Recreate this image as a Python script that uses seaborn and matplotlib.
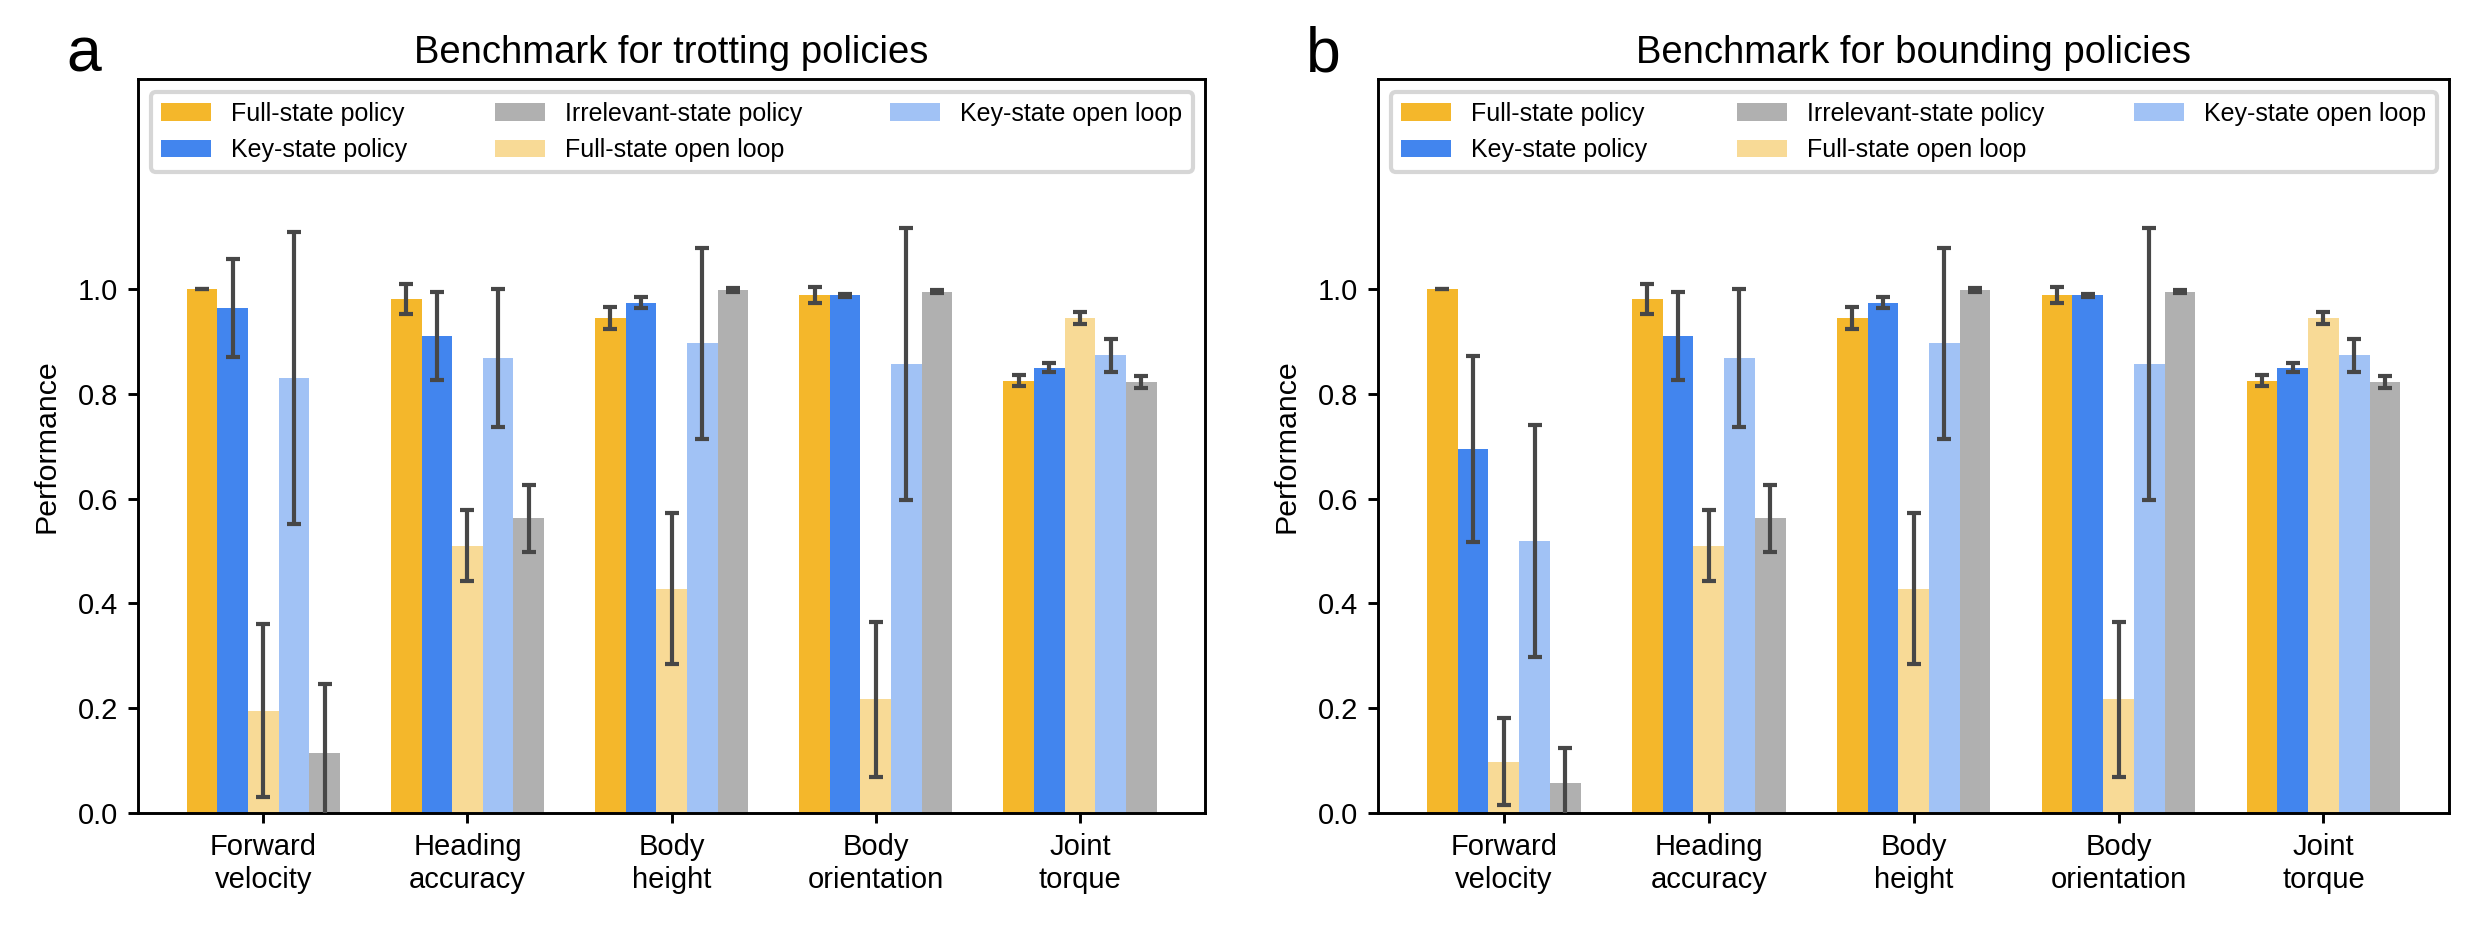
import numpy as np
import pandas as pd
import matplotlib
matplotlib.use("Agg")
import matplotlib.pyplot as plt
from matplotlib.patches import Patch
from matplotlib.container import BarContainer
import seaborn as sns

# ---------------- data ----------------
metrics = ["Forward\nvelocity", "Heading\naccuracy", "Body\nheight", "Body\norientation", "Joint\ntorque"]
methods = ["Full-state policy", "Key-state policy", "Full-state open loop",
           "Key-state open loop", "Irrelevant-state policy"]
legend_order = ["Full-state policy", "Key-state policy", "Irrelevant-state policy",
                "Full-state open loop", "Key-state open loop"]

# trotting: mean values per method (over metrics)
trot_full = [1.000, 0.981, 0.945, 0.988, 0.825]
trot_key = [0.964, 0.911, 0.974, 0.988, 0.850]
trot_full_ol = [0.195, 0.510, 0.428, 0.217, 0.945]
trot_key_ol = [0.830, 0.868, 0.896, 0.857, 0.873]
trot_irr = [0.115, 0.562, 0.998, 0.995, 0.822]

trot_full_err = [0.000, 0.028, 0.021, 0.015, 0.010]
trot_key_err = [0.093, 0.084, 0.010, 0.003, 0.008]
trot_full_ol_err = [0.165, 0.068, 0.144, 0.148, 0.011]
trot_key_ol_err = [0.279, 0.132, 0.182, 0.260, 0.032]
trot_irr_err = [0.132, 0.064, 0.003, 0.003, 0.011]

# bounding
bound_full = [1.000, 0.981, 0.945, 0.988, 0.825]
bound_key = [0.695, 0.911, 0.974, 0.988, 0.850]
bound_full_ol = [0.098, 0.510, 0.428, 0.217, 0.945]
bound_key_ol = [0.519, 0.868, 0.896, 0.857, 0.873]
bound_irr = [0.058, 0.562, 0.998, 0.995, 0.822]

bound_full_err = [0.000, 0.028, 0.021, 0.015, 0.010]
bound_key_err = [0.177, 0.084, 0.010, 0.003, 0.008]
bound_full_ol_err = [0.083, 0.068, 0.144, 0.148, 0.011]
bound_key_ol_err = [0.222, 0.132, 0.182, 0.260, 0.032]
bound_irr_err = [0.066, 0.064, 0.003, 0.003, 0.011]

titles = ["Benchmark for trotting policies", "Benchmark for bounding policies"]
panel_labels = ["a", "b"]

palette = {
    "Full-state policy": "#F4B72B",
    "Key-state policy": "#4285EE",
    "Full-state open loop": "#F8DA96",
    "Key-state open loop": "#A1C2F5",
    "Irrelevant-state policy": "#B0B0B0",
}

# ---------------- style ----------------
sns.set_style("ticks")
plt.rcParams["font.family"] = ["Liberation Sans", "DejaVu Sans"]
plt.rcParams["text.color"] = "black"
plt.rcParams["axes.labelcolor"] = "black"
plt.rcParams["axes.titlecolor"] = "black"
plt.rcParams["axes.linewidth"] = 0.7
plt.rcParams["xtick.major.width"] = 0.7
plt.rcParams["ytick.major.width"] = 0.7
plt.rcParams["xtick.major.size"] = 2.4
plt.rcParams["ytick.major.size"] = 2.4
plt.rcParams["xtick.major.pad"] = 2.5
plt.rcParams["ytick.major.pad"] = 2.5
plt.rcParams["xtick.color"] = "black"
plt.rcParams["ytick.color"] = "black"
plt.rcParams["xtick.labelcolor"] = "black"
plt.rcParams["ytick.labelcolor"] = "black"
plt.rcParams["axes.edgecolor"] = "black"

W, H = 2480, 930
fig = plt.figure(figsize=(W / 300, H / 300), dpi=300)

positions = [
    [138.3 / W, 1 - 813 / H, (1205 - 138.3) / W, (813 - 79.3) / H],
    [1378.3 / W, 1 - 813 / H, (2449 - 1378.3) / W, (813 - 79.3) / H],
]

panels = [
    ([trot_full, trot_key, trot_full_ol, trot_key_ol, trot_irr],
     [trot_full_err, trot_key_err, trot_full_ol_err, trot_key_ol_err, trot_irr_err]),
    ([bound_full, bound_key, bound_full_ol, bound_key_ol, bound_irr],
     [bound_full_err, bound_key_err, bound_full_ol_err, bound_key_ol_err, bound_irr_err]),
]

for p, (vals, errs) in enumerate(panels):
    ax = fig.add_axes(positions[p])
    rows = []
    for mi, m in enumerate(methods):
        for ci, c in enumerate(metrics):
            rows.append({"metric": c, "method": m, "value": vals[mi][ci]})
    df = pd.DataFrame(rows)
    sns.barplot(data=df, x="metric", y="value", hue="method", order=metrics,
                hue_order=methods, palette=palette, saturation=1, width=0.75,
                errorbar=None, legend=False, ax=ax, linewidth=0)
    bar_conts = [c for c in ax.containers if isinstance(c, BarContainer)]
    for mi, cont in enumerate(bar_conts):
        xs = [b.get_x() + b.get_width() / 2 for b in cont]
        ys = [b.get_height() for b in cont]
        ax.errorbar(xs, ys, yerr=errs[mi], fmt="none", ecolor="#474747",
                    elinewidth=1.0, capsize=1.7, capthick=1.0, zorder=5)
    ax.set_xlim(-0.6125, 4.6125)
    ax.set_ylim(0, 1.4)
    ax.set_yticks([0, 0.2, 0.4, 0.6, 0.8, 1.0])
    ax.set_yticklabels(["0.0", "0.2", "0.4", "0.6", "0.8", "1.0"])
    ax.tick_params(axis="both", labelsize=7, colors="black")
    ax.set_xlabel("")
    ax.set_ylabel("Performance", fontsize=7.3, color="black")
    for s in ax.spines.values():
        s.set_visible(True)
        s.set_linewidth(0.7)
        s.set_color("black")
    ax.set_title(titles[p], fontsize=9.2, pad=4, color="black")
    handles = [Patch(facecolor=palette[m], edgecolor="none", label=m) for m in legend_order]
    leg = ax.legend(handles=handles, ncol=3, mode="expand", loc="upper left",
                    bbox_to_anchor=(0, 0, 1, 1), fontsize=6, borderaxespad=0.5,
                    frameon=True, edgecolor="0.8", fancybox=True)
    for t in leg.get_texts():
        t.set_color("black")
    fig.text(positions[p][0] - 72 / W, 1 - 72 / H, panel_labels[p], fontsize=15,
             ha="left", va="baseline", color="black")

fig.savefig("out.png", dpi=300)
